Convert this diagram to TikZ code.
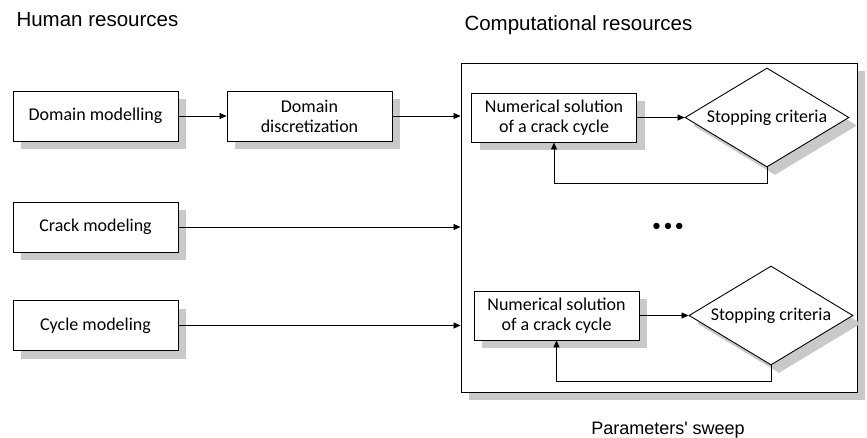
\documentclass[tikz,border=0pt]{standalone}
\usepackage{fontspec}
\setmainfont{Carlito}
\newfontfamily\labelfont{Liberation Sans}
\usetikzlibrary{arrows.meta, shapes.geometric, shadows}
\colorlet{ShadowGray}{black!21}
\tikzset{
    gray shadow/.style={
        drop shadow={shadow xshift=8pt, shadow yshift=-8pt, fill=ShadowGray, opacity=1}
    },
    task box/.style={
        draw, fill=white, line width=0.9pt, inner sep=0pt, align=center,
        minimum width=165pt, minimum height=50pt,
        font=\fontsize{18}{20}\selectfont, gray shadow
    },
    stop test/.style={
        draw, fill=white, line width=0.9pt, diamond, aspect=1.66, inner sep=0pt,
        minimum width=164pt, minimum height=99pt,
        font=\fontsize{18}{20}\selectfont, gray shadow
    },
    flow/.style={-{Triangle[length=7pt, width=6pt]}, line width=0.8pt},
    side label/.style={font=\labelfont\fontsize{20.5}{22}\selectfont}
}

\begin{document}
\begin{tikzpicture}[x=1pt, y=-1pt]
\useasboundingbox (0,0) rectangle (867,438);

% container of the computational part
\node[draw, fill=white, line width=0.9pt, gray shadow,
    minimum width=396pt, minimum height=329pt] (sweep) at (659, 227.5) {};

\node[side label, anchor=base west] (human) at (13, 27) {Human resources};
\node[side label, anchor=base west] (comp) at (461, 31) {Computational resources};
\node[font=\labelfont\fontsize{18}{20}\selectfont, anchor=base] (sweeplabel) at (668, 434) {Parameters' sweep};

% human resources
\node[task box] (dmodel) at (95.5, 116) {Domain modelling};
\node[task box] (ddisc) at (309.5, 116) {Domain\\discretization};
\node[task box] (crack) at (95.5, 227) {Crack modeling};
\node[task box] (cycle) at (95.5, 325.5) {Cycle modeling};

% computational resources
\node[task box, minimum height=49pt] (numA) at (554, 117.5) {Numerical solution\\of a crack cycle};
\node[stop test] (stopA) at (767, 117.5) {Stopping criteria};
\node[task box, minimum height=49pt] (numB) at (556.5, 315.5) {Numerical solution\\of a crack cycle};
\node[stop test] (stopB) at (771, 315.5) {Stopping criteria};

\node[font=\fontsize{18}{20}\selectfont] (dots) at (668, 227) {•\hspace{2.5pt}•\hspace{2.5pt}•};

\draw[flow] (dmodel) -- (ddisc);
\draw[flow] (ddisc.east) -- (ddisc.east -| sweep.west);
\draw[flow] (crack) -- (crack -| sweep.west);
\draw[flow] (cycle) -- (cycle -| sweep.west);

\draw[flow] (numA) -- (stopA);
\draw[flow] (stopA.south) -- ++(0,16) -| (numA.south);
\draw[flow] (numB) -- (stopB);
\draw[flow] (stopB.south) -- ++(0,16) -| (numB.south);

\end{tikzpicture}
\end{document}
